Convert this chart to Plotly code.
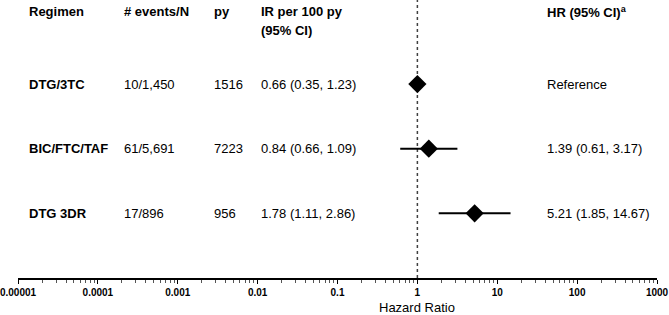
import plotly.graph_objects as go

regimens = ["DTG/3TC", "BIC/FTC/TAF", "DTG 3DR"]
events_n = ["10/1,450", "61/5,691", "17/896"]
py_vals = ["1516", "7223", "956"]
ir_text = ["0.66 (0.35, 1.23)", "0.84 (0.66, 1.09)", "1.78 (1.11, 2.86)"]
hr_text = ["Reference", "1.39 (0.61, 3.17)", "5.21 (1.85, 14.67)"]
hr = [1.0, 1.39, 5.21]
hr_lo = [None, 0.61, 1.85]
hr_hi = [None, 3.17, 14.67]
rows = [1, 2, 3]

headers = ["Regimen", "# events/N", "py", "IR per 100 py", "HR (95% CI)<sup>a</sup>"]
header2 = "(95% CI)"
tick_vals = [1e-5, 1e-4, 1e-3, 1e-2, 1e-1, 1, 10, 100, 1000]
tick_text = ["0.00001", "0.0001", "0.001", "0.01", "0.1", "1", "10", "100", "1000"]

FONT = "Liberation Sans, Arial, sans-serif"
W, H = 669, 315
L, R, T, B = 18, 12, 0, 37
pw = W - L - R
ph = H - T - B

def px2paper(px):
    return (px - L) / pw

def py2paper(py):
    return 1 - (py - T) / ph

plus = [(h - hr[i]) if h is not None else 0 for i, h in enumerate(hr_hi)]
minus = [(hr[i] - l) if l is not None else 0 for i, l in enumerate(hr_lo)]

fig = go.Figure()
fig.add_trace(go.Scatter(
    x=hr, y=rows, mode="markers",
    marker=dict(symbol="diamond", size=14, color="black"),
    error_x=dict(type="data", array=plus, arrayminus=minus, width=0,
                 thickness=2, color="black"),
    hoverinfo="skip", showlegend=False,
))

fig.add_shape(type="line", xref="x", yref="paper", x0=1, x1=1, y0=0, y1=1,
              line=dict(color="#404040", width=1.5, dash="dot"), layer="below")

col_px = [27, 122, 212, 259, 545]
ann = []
for j, htxt in enumerate(headers):
    ann.append(dict(text="<b>%s</b>" % htxt, x=px2paper(col_px[j]), y=py2paper(12),
                    xref="paper", yref="paper", xanchor="left", yanchor="middle",
                    showarrow=False, font=dict(size=13, color="black", family=FONT)))
ann.append(dict(text="<b>%s</b>" % header2, x=px2paper(col_px[3]), y=py2paper(30),
                xref="paper", yref="paper", xanchor="left", yanchor="middle",
                showarrow=False, font=dict(size=13, color="black", family=FONT)))

cols = [regimens, events_n, py_vals, ir_text, hr_text]
for i, r in enumerate(rows):
    for j, col in enumerate(cols):
        t = col[i]
        if j == 0:
            t = "<b>%s</b>" % t
        ann.append(dict(text=t, x=px2paper(col_px[j]), y=r, xref="paper", yref="y",
                        xanchor="left", yanchor="middle", showarrow=False,
                        font=dict(size=13, color="black", family=FONT)))

ann.append(dict(text="Hazard Ratio", x=0, y=py2paper(307.5), xref="x", yref="paper",
                xanchor="center", yanchor="middle", showarrow=False, borderpad=0,
                font=dict(size=13, color="black", family=FONT)))

minor_vals = [k * 10.0 ** e for e in range(-5, 3) for k in range(2, 10)]

fig.update_layout(
    width=W, height=H,
    margin=dict(l=L, r=R, t=T, b=B, pad=0, autoexpand=False),
    paper_bgcolor="white", plot_bgcolor="white",
    annotations=ann,
    xaxis=dict(type="log", range=[-5, 3], showgrid=False, zeroline=False,
               showline=True, linecolor="black", linewidth=1.5,
               ticks="outside", ticklen=4, tickwidth=1, tickcolor="black",
               tickvals=tick_vals, ticktext=tick_text, automargin=False,
               ticklabeloverflow="allow",
               tickfont=dict(size=10, color="black", family=FONT, weight="bold"),
               minor=dict(tickvals=minor_vals, ticks="outside", ticklen=3,
                          tickwidth=1, tickcolor="#555555", showgrid=False)),
    yaxis=dict(range=[4.0, -0.30], visible=False, showgrid=False, zeroline=False),
    font=dict(family=FONT, color="black"),
)

fig.write_html("out.html", config={"displayModeBar": False, "staticPlot": True},
               post_script="document.body.style.margin='0';document.body.style.padding='0';")
